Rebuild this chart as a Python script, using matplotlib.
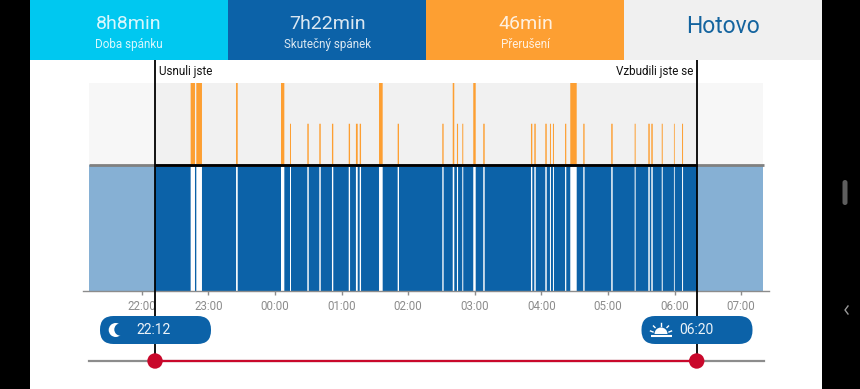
#!/usr/bin/env python3
# sleep record screen: summary tiles, wake bars, sleep band, time slider
import matplotlib
matplotlib.use('Agg')
import matplotlib.pyplot as plt
from matplotlib.patches import Rectangle, FancyBboxPatch, Circle, Wedge
from matplotlib.transforms import blended_transform_factory

plt.rcParams['font.family'] = ['Roboto', 'DejaVu Sans']

# minutes after 22:00
tall_start = [44.1, 49.2, 85.0, 125.5, 213.8, 280.2, 298.7, 386.1]
tall_end = [48.0, 54.3, 86.5, 128.5, 217.1, 281.6, 300.9, 391.9]
short_start = [133.6, 149.2, 160.0, 171.4, 186.5, 193.0, 196.4, 230.6, 270.8,
               284.0, 288.8, 307.7, 350.7, 353.7, 363.6, 367.8, 370.5, 381.4,
               397.8, 423.0, 444.1, 456.4, 459.1, 468.5, 479.5, 486.8]
short_end = [134.5, 150.5, 161.3, 172.6, 187.7, 194.6, 197.6, 231.8, 272.0,
             285.0, 289.7, 309.0, 351.9, 355.0, 364.9, 368.7, 371.4, 382.5,
             399.0, 424.3, 445.0, 457.7, 460.4, 469.4, 480.2, 487.7]
asleep = 12
awake = 500
hour_ticks = [0, 60, 120, 180, 240, 300, 360, 420, 480, 540]
hour_labels = ['22:00', '23:00', '00:00', '01:00', '02:00',
               '03:00', '04:00', '05:00', '06:00', '07:00']
tile_values = ['8h8min', '7h22min', '46min']
tile_labels = ['Doba spánku', 'Skutečný spánek', 'Přerušení']

NAVY = '#0c62a8'
PALE = '#86b0d4'
ORANGE = '#fd9f32'
CYAN = '#00c8f0'
GREY = '#8c8c8c'
RED = '#c9082b'

W, H = 860, 389
fig = plt.figure(figsize=(W / 100, H / 100), dpi=100, facecolor='white')

# page furniture in pixels
pg = fig.add_axes([0, 0, 1, 1], zorder=0)
pg.set_xlim(0, W)
pg.set_ylim(H, 0)
pg.axis('off')
pg.add_patch(Rectangle((0, 0), 30, H, color='black', lw=0))
pg.add_patch(Rectangle((822, 0), 38, H, color='black', lw=0))
pg.add_patch(FancyBboxPatch((842.5, 180), 5, 25, boxstyle='round,pad=0,rounding_size=2.5',
                            fc='#5e5e5e', ec='none'))
pg.plot([848, 845, 848], [306, 310, 314], color='#9a9a9a', lw=1)

for i, col in enumerate([CYAN, NAVY, ORANGE]):
    pg.add_patch(Rectangle((30 + 198 * i, 0), 198, 59.5, color=col, lw=0))
    xc = 129 + 198.5 * i
    pg.text(xc, 24, tile_values[i], color='white', fontsize=14,
            ha='center', va='center', alpha=.85)
    pg.text(xc, 44.5, tile_labels[i], color='white', fontsize=8.4,
            ha='center', va='center', alpha=.85)
pg.add_patch(Rectangle((624, 0), 198, 59.5, color='#f0f0f0', lw=0))
pg.text(723, 26, 'Hotovo', color='#14649f', fontsize=16.5, ha='center', va='center')

# the chart, x in minutes after 22:00
left, right, top, bot = 83, 769, 82.5, 291
ax = fig.add_axes([left / W, 1 - bot / H, (right - left) / W, (bot - top) / H], zorder=1)
ax.patch.set_alpha(0)
ppm = 1.11
x0 = 141.7
ax.set_xlim((left - x0) / ppm, (right - x0) / ppm)
ax.set_ylim(-126 / 82.5, 1)
xmin, xmax = (89 - x0) / ppm, (763.5 - x0) / ppm

ax.axvspan(xmin, xmax, ymin=126 / 208.5, ymax=1, color='#f7f7f7', lw=0, zorder=1)
ax.axvspan(asleep, awake, ymin=126 / 208.5, ymax=1, color='#f1f1f1', lw=0, zorder=1.1)
ax.axvspan(xmin, xmax, ymin=0, ymax=126 / 208.5, color=PALE, lw=0, zorder=1)
ax.axvspan(asleep, awake, ymin=0, ymax=126 / 208.5, color=NAVY, lw=0, zorder=1.1)

# snap off, the thin bars should blur into the background as in the app
for s, e in zip(tall_start, tall_end):
    ax.bar(s, 1, e - s, align='edge', color=ORANGE, lw=0, zorder=2, snap=False)
    ax.bar(s, -126 / 82.5, e - s, align='edge', color='white', lw=0, zorder=2, snap=False)
for s, e in zip(short_start, short_end):
    ax.bar(s, 0.5, e - s, align='edge', color=ORANGE, lw=0, zorder=2, snap=False)
    ax.bar(s, -126 / 82.5, e - s, align='edge', color='white', lw=0, zorder=2, snap=False)

ax.plot([xmin, xmax], [0, 0], color='#808080', lw=2, zorder=3, solid_capstyle='butt')
ax.plot([asleep, awake], [0, 0], color='black', lw=2, zorder=4, solid_capstyle='butt')

for name in ['top', 'left', 'right']:
    ax.spines[name].set_visible(False)
ax.spines['bottom'].set_color(GREY)
ax.spines['bottom'].set_linewidth(1)
ax.set_yticks([])
ax.set_xticks(hour_ticks)
ax.set_xticklabels(hour_labels)
ax.tick_params(axis='x', length=3, width=1, color=GREY, labelcolor=GREY,
               labelsize=8.3, pad=3.5)

# things that run outside the chart, x still in minutes
ov = fig.add_axes([0, 0, 1, 1], zorder=2)
ov.set_xlim(0, W)
ov.set_ylim(H, 0)
ov.axis('off')
tr = blended_transform_factory(ax.transData, ov.transData)
for m in (asleep, awake):
    ov.plot([m, m], [59.5, 361], color='black', lw=1.3, transform=tr, zorder=1,
            solid_capstyle='butt')
ov.text(159, 71.5, 'Usnuli jste', fontsize=8.4, color='#111111', ha='left', va='center')
ov.text(693, 71.5, 'Vzbudili jste se', fontsize=8.4, color='#111111', ha='right', va='center')

# slider
ov.plot([xmin, xmax], [361, 361], color=GREY, lw=1.6, transform=tr, zorder=2)
ov.plot([asleep, awake], [361, 361], color=RED, lw=1.6, transform=tr, zorder=3)
for m in (asleep, awake):
    xp = x0 + m * ppm
    ov.add_patch(Circle((xp, 361), 7.7, color=RED, lw=0, zorder=4))

# time pills
for xa, xb, label, xt in [(100, 211, '22:12', 136), (641.5, 752.5, '06:20', 679.5)]:
    ov.add_patch(FancyBboxPatch((xa, 316), xb - xa, 28, boxstyle='round,pad=0,rounding_size=13.5',
                                fc=NAVY, ec='none', zorder=5))
    ov.text(xt, 330.5, label, color='white', fontsize=10, ha='left', va='center', zorder=6,
            alpha=.92)

# moon
ov.add_patch(Circle((115.7, 330), 7, color='white', lw=0, zorder=6))
ov.add_patch(Circle((120.5, 329.5), 6.2, color=NAVY, lw=0, zorder=7))

# rising sun
sx, sy = 661, 334
ov.add_patch(Wedge((sx, sy), 6.5, 180, 360, color='white', lw=0, zorder=6))
ov.plot([650.7, 671.7], [336, 336], color='white', lw=1.5, zorder=6, solid_capstyle='butt')
for dx0, dy0, dx1, dy1 in [(-10.5, -3, -8, -2), (-7.5, -8, -6, -6.5), (0, -11, 0, -8.5),
                           (7.5, -8, 6, -6.5), (10.5, -3, 8, -2)]:
    ov.plot([sx + dx0, sx + dx1], [sy + dy0, sy + dy1], color='white', lw=1, zorder=6)

fig.savefig('out.png', dpi=100, facecolor='white')
